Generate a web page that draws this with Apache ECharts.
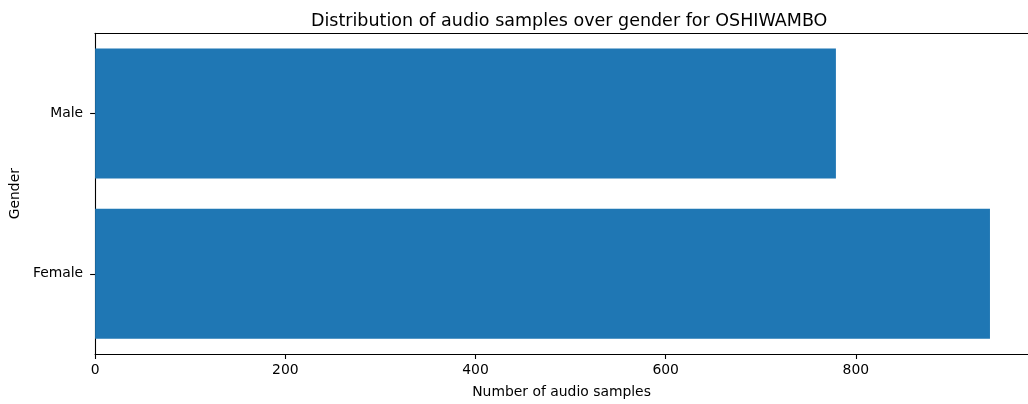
<!DOCTYPE html>
<html>
<head>
<meta charset="utf-8">
<script src="https://cdn.jsdelivr.net/npm/echarts@6/dist/echarts.min.js"></script>
<style>html,body{margin:0;padding:0;background:#fff;}#c{width:1028px;height:404px;}</style>
</head>
<body>
<div id="c"></div>
<script>
var categories = ['Female', 'Male'];
var samples = [941, 779];
var xTicks = [0, 200, 400, 600, 800];

var font = 'DejaVu Sans';
var xMax = 981;
var chart = echarts.init(document.getElementById('c'), null, {renderer: 'canvas'});
chart.setOption({
  animation: false,
  backgroundColor: '#ffffff',
  title: {
    text: 'Distribution of audio samples over gender for OSHIWAMBO',
    left: 306, top: 7,
    textStyle: {fontFamily: font, fontSize: 17.5, fontWeight: 'normal', color: '#000'}
  },
  grid: {left: 95, top: 33.3, right: 0, height: 322.7},
  xAxis: [{
    type: 'value', min: 0, max: xMax, interval: 200,
    name: 'Number of audio samples', nameLocation: 'middle', nameGap: 31,
    nameTextStyle: {fontFamily: font, fontSize: 13.9, color: '#000'},
    axisLine: {show: true, lineStyle: {color: '#000', width: 1.1}},
    axisTick: {show: true, length: 5, lineStyle: {color: '#000', width: 1.1}},
    axisLabel: {fontFamily: font, fontSize: 13.9, color: '#000', margin: 9, showMaxLabel: false,
      formatter: function(v){ return xTicks.indexOf(v) >= 0 ? String(v) : ''; }},
    splitLine: {show: false}
  }, {
    type: 'value', position: 'top', min: 0, max: xMax,
    axisLine: {show: true, lineStyle: {color: '#000', width: 1.1}},
    axisTick: {show: false}, axisLabel: {show: false}, splitLine: {show: false}
  }],
  yAxis: {
    type: 'category', data: categories,
    name: 'Gender', nameLocation: 'middle', nameGap: 68,
    nameTextStyle: {fontFamily: font, fontSize: 13.9, color: '#000'},
    axisLine: {show: true, lineStyle: {color: '#000', width: 1.1}},
    axisTick: {show: true, length: 5, alignWithLabel: true, lineStyle: {color: '#000', width: 1.1}},
    axisLabel: {fontFamily: font, fontSize: 13.9, color: '#000', margin: 12},
    splitLine: {show: false}
  },
  series: [{
    type: 'bar', data: samples, barWidth: 130, xAxisIndex: 0,
    itemStyle: {color: '#1f77b4'}
  }]
});
</script>
</body>
</html>
